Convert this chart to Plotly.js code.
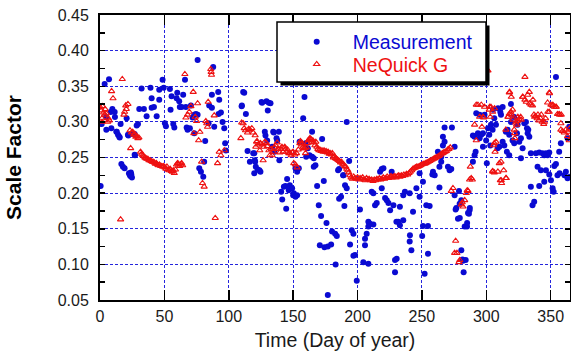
<!DOCTYPE html>
<html>
<head>
<meta charset="utf-8">
<script src="https://cdn.plot.ly/plotly-3.0.1.min.js"></script>
<style>html,body{margin:0;padding:0;background:#fff;}#chart{width:571px;height:356px;}</style>
</head>
<body>
<div id="chart"></div>
<script>
// ---- Data ----
const xTickVals = [0, 50, 100, 150, 200, 250, 300, 350];
const yTickVals = [0.05, 0.10, 0.15, 0.20, 0.25, 0.30, 0.35, 0.40, 0.45];

const measName = "Measurement";
const measDay = [0.5,1.3,3.6,4.7,4.9,7.0,8.3,8.8,9.6,11.4,11.6,12.7,13,14,15,15.3,16,16.6,17.8,19.1,20.7,21.7,22,22.5,23,23.5,24,24.3,24.3,24.8,26.9,26.9,27.2,28.5,29.5,30.5,32.3,34.1,36.2,39.2,40.1,40.1,41.9,44,46,46,48.6,49.5,50.4,51.2,54.3,54.8,55.6,56.9,57.7,59.5,60,61.5,62,63.4,64.6,66,66.7,67.3,68,69.8,70.6,71.9,73.2,73.2,74.5,75.8,75.8,77.1,78.4,80.2,80.9,81.7,84.3,84.8,86.9,86.9,87.9,88.7,91.8,92.1,92.6,93.9,95.2,96.5,97.2,97.8,
110,110.2,111.2,112,113.3,114.6,116.4,119,119.8,119.8,120.2,120.5,121,122.5,123.8,124.6,125.4,125.9,128,128.5,129.3,129.8,130.3,131.1,132.4,133.7,134.5,135,135.5,137.1,137.6,138.9,139.3,140.7,141.5,142.8,144,144.6,145.3,146.6,147.4,149.2,150,150.5,151.8,151.8,153.1,153.1,154.4,155,157.8,158.8,159.6,160.1,161.4,162.7,164.7,164.7,166,166,167.3,168.6,169.9,170.7,171.7,172.5,173.8,174.3,175.9,176.9,176.9,179.5,180.2,
182.6,183,183.9,184.9,185.7,185.7,187.2,188.8,189.1,189.8,190.3,191.6,191.6,193.5,194.2,195.5,196.8,196.8,198.1,199.4,201.9,204.5,205.8,205.8,207.1,208.4,208.4,208.4,209.7,211,212.3,212.3,213.6,214.9,217.5,218.8,218.8,220.1,221.4,222.7,224,225.3,226.5,227.9,229.1,229.1,230.2,230.4,231.6,232.9,232.9,235.5,235.5,236.8,240.5,240.5,240.7,241.8,243.1,245.7,248.2,248.2,250.2,250.8,250.8,252.1,253.4,254.7,254.7,256,258.1,258.6,259.9,262.4,263.6,263.6,265,265,266.3,266.3,267.6,267.6,270.2,271.5,272.8,273.3,275.4,275.4,276.2,276.7,278,278.8,279.3,279.4,280.6,280.6,281.5,281.9,282.4,283.2,284,285,285.1,285.8,286.5,287,287.2,289.6,289.6,290.9,290.9,291.7,292.2,293.5,294.8,294.8,296.1,297.4,297.4,298.6,299.9,300.4,301.3,
302.3,303.1,303.6,304.9,305.2,306.2,307.5,308.8,309.1,310.1,310.9,311.4,312.7,312.7,314,315.2,316,316.5,317.8,317.8,319.1,319.1,320.4,321.7,321.7,323.8,324.3,325.6,326.9,326.9,328.2,329.5,330.8,331.6,332.1,332.6,333.4,334.6,334.6,335.9,337.2,338.5,339.8,341.1,341.1,342.4,343.7,345,345,346.3,346.3,347.6,348.9,348.9,350.2,351.5,352.3,352.8,354.1,354.1,355.3,356.6,356.9,357.9,360.7,361.8,363.1,363.1,364.4,365];
const measVal = [0.210,0.297,0.353,0.307,0.289,0.360,0.314,0.291,0.318,0.314,0.307,0.286,0.286,0.282,0.279,0.278,0.297,0.241,0.237,0.235,0.305,0.282,0.281,0.228,0.226,0.224,0.229,0.226,0.283,0.222,0.283,0.254,0.253,0.295,0.297,0.318,0.347,0.318,0.308,0.348,0.320,0.333,0.321,0.308,0.345,0.331,0.359,0.348,0.298,0.294,0.346,0.317,0.336,0.297,0.292,0.333,0.341,0.329,0.321,0.321,0.338,0.359,0.321,0.292,0.289,0.291,0.323,0.306,0.310,0.284,0.311,0.387,0.310,0.235,0.230,0.223,0.244,0.273,0.298,0.323,0.338,0.320,0.377,0.293,0.342,0.311,0.331,0.313,0.300,0.291,0.270,0.260,
0.322,0.323,0.342,0.341,0.311,0.259,0.244,0.256,0.256,0.228,0.246,0.244,0.237,0.233,0.232,0.230,0.328,0.327,0.286,0.281,0.329,0.274,0.316,0.327,0.326,0.265,0.286,0.285,0.258,0.277,0.274,0.286,0.246,0.202,0.191,0.209,0.210,0.178,0.220,0.204,0.211,0.207,0.197,0.200,0.195,0.235,0.197,0.230,0.235,0.272,0.305,0.335,0.270,0.251,0.263,0.253,0.286,0.251,0.249,0.237,0.239,0.210,0.183,0.127,0.168,0.276,0.217,0.124,0.158,0.125,0.057,0.128,0.146,
0.143,0.100,0.140,0.232,0.234,0.192,0.195,0.225,0.225,0.182,0.211,0.300,0.207,0.245,0.128,0.148,0.143,0.112,0.113,0.077,0.177,0.103,0.127,0.136,0.143,0.160,0.153,0.101,0.157,0.202,0.200,0.156,0.183,0.186,0.230,0.234,0.207,0.235,0.193,0.190,0.186,0.176,0.230,0.183,0.106,0.089,0.160,0.108,0.160,0.155,0.181,0.162,0.197,0.202,0.200,0.132,0.141,0.120,0.174,0.207,0.228,0.195,0.140,0.216,0.154,0.087,0.183,0.154,0.115,0.182,0.226,0.230,0.225,0.258,0.208,0.237,0.244,0.251,0.279,0.267,0.272,0.292,0.237,0.232,0.234,0.292,0.197,0.265,0.177,0.179,0.164,0.203,0.185,0.165,0.190,0.120,0.107,0.105,0.089,0.153,0.106,0.153,0.158,0.172,0.171,0.176,0.179,0.244,0.281,0.253,0.279,0.258,0.312,0.284,0.310,0.277,0.282,0.284,0.265,0.310,0.274,0.242,0.291,
0.282,0.267,0.296,0.289,0.317,0.305,0.296,0.263,0.319,0.265,0.314,0.310,0.321,0.272,0.267,0.286,0.258,0.289,0.282,0.253,0.300,0.325,0.274,0.307,0.270,0.284,0.296,0.272,0.277,0.249,0.263,0.298,0.300,0.291,0.284,0.289,0.279,0.256,0.209,0.183,0.188,0.256,0.237,0.257,0.210,0.232,0.256,0.253,0.216,0.256,0.232,0.253,0.257,0.226,0.218,0.207,0.202,0.238,0.241,0.363,0.225,0.258,0.228,0.270,0.225,0.230,0.277,0.221,0.293,0.223];

const nqName = "NeQuick G";
const nqDay = [0.5,1.0,1.5,1.6,2.0,2.8,3.5,4.0,5.0,6.0,6.5,7.2,9.0,10.1,16.0,17.3,18.6,19.1,20.0,20.4,21.7,23.3,23.8,24.5,25.4,26.2,27.0,27.8,28.6,29.4,30.2,
31.5,32.3,33.1,34.0,34.8,35.6,36.4,37.2,38.0,38.9,39.7,40.5,41.3,42.1,43.0,43.8,44.6,45.4,46.2,47.1,47.9,48.7,49.5,50.4,51.2,52.0,52.8,53.6,54.5,55.3,56.1,56.9,57.7,58.6,59.4,60.2,61.0,61.8,62.6,63.4,64.2,
65.9,66.7,68.0,69.3,70.6,72.4,72.9,74.0,75.0,75.8,76.6,77.6,78.9,79.6,80.9,82.2,82.9,83.5,84.0,86.0,86.3,86.6,88.7,89.5,91.3,92.6,93.9,96.5,
109.4,110.0,111.2,112.0,113.0,114.6,115.5,116.4,117.9,118.9,120.5,121.0,121.6,122.0,123.0,124.1,124.6,126.0,126.7,127.2,128.0,129.3,130.0,131.1,131.9,133.0,133.7,134.5,135.5,136.3,137.6,138.5,139.6,140.5,141.3,142.2,143.5,144.0,144.8,145.7,146.6,147.4,148.5,149.3,150.0,150.5,151.3,151.8,152.6,153.1,154.0,155.2,155.7,156.5,157.0,157.8,158.3,159.1,159.6,160.3,161.0,161.7,162.4,163.0,163.7,164.4,165.3,166.0,166.9,167.6,168.4,169.2,170.0,170.8,171.6,172.4,173.2,174.0,174.8,175.6,176.4,177.2,178.0,178.8,179.6,180.4,181.2,182.0,182.8,183.6,184.4,185.2,186.0,186.8,187.6,188.4,189.2,190.0,190.8,191.6,192.4,193.2,194.0,
195,196,197,198,199,200,201,202,203,204,205,206,207,208,209,210,211,212,213,214,215,216,217,218,219,220,221,222,223,224,225,226,227,228,229,230,231,232,233,234,235,236,237,238,239,240,241,242,
243,244,245,246,247,248,249,250,251,252,253,254,255,256,257,258,259,260,261,262,263,264,265,266,267,268,269,270,271,272,
272.8,274.1,275.4,276.2,277.2,278.8,279.4,280.6,281.3,281.9,283.2,284.5,285.2,285.8,287.0,287.6,288.3,289.2,290.9,292.2,292.2,293.5,294.8,296.1,296.6,297.4,297.9,298.6,299.9,301.3,302.3,302.6,303.1,303.6,304.9,304.9,305.1,305.6,306.2,306.2,306.4,306.8,307.5,309.0,310.1,310.9,311.4,311.6,311.9,313.5,315.2,315.2,315.5,316.8,317.0,317.8,317.8,318.1,319.1,319.4,319.6,320.4,320.7,321.7,322.0,322.2,322.8,323.5,324.1,324.5,325.4,326.7,327.1,328.2,328.4,330.0,330.0,331.0,332.1,333.4,333.6,334.6,335.9,336.2,337.0,337.5,338.3,339.5,340.1,340.8,342.0,342.7,343.4,344.6,345.2,346.0,347.6,347.8,348.9,349.1,348.9,350.2,351.5,351.7,352.8,354.1,354.3,355.3,356.6,356.9,357.9,357.9,358.2,359.2,360.5,361.8,363.1,363.4,364.4,364.7];
const nqVal = [0.320,0.316,0.305,0.300,0.322,0.313,0.310,0.318,0.312,0.300,0.305,0.302,0.343,0.333,0.163,0.360,0.310,0.314,0.323,0.318,0.325,0.288,0.263,0.285,0.286,0.282,0.283,0.279,0.280,0.277,0.278,
0.258,0.255,0.253,0.252,0.250,0.249,0.248,0.248,0.246,0.246,0.245,0.244,0.244,0.243,0.241,0.242,0.240,0.239,0.240,0.238,0.238,0.237,0.238,0.236,0.234,0.237,0.233,0.232,0.234,0.231,0.230,0.232,0.228,0.233,0.240,0.242,0.241,0.238,0.240,0.242,0.239,
0.367,0.306,0.310,0.314,0.322,0.342,0.284,0.307,0.301,0.326,0.274,0.286,0.244,0.214,0.209,0.301,0.298,0.293,0.328,0.374,0.370,0.366,0.309,0.165,0.242,0.258,0.253,0.260,
0.277,0.299,0.298,0.291,0.288,0.285,0.290,0.289,0.291,0.285,0.281,0.265,0.272,0.273,0.268,0.260,0.270,0.268,0.246,0.265,0.272,0.270,0.266,0.260,0.253,0.262,0.253,0.258,0.264,0.267,0.271,0.262,0.257,0.262,0.265,0.258,0.265,0.262,0.258,0.261,0.256,0.256,0.253,0.257,0.258,0.242,0.254,0.240,0.256,0.236,0.261,0.270,0.273,0.268,0.270,0.265,0.263,0.263,0.256,0.264,0.270,0.274,0.275,0.277,0.276,0.272,0.274,0.271,0.267,0.272,0.265,0.262,0.260,0.261,0.259,0.260,0.258,0.260,0.258,0.259,0.257,0.258,0.255,0.256,0.254,0.256,0.250,0.252,0.249,0.248,0.247,0.246,0.245,0.243,0.244,0.241,0.240,0.238,0.237,0.234,0.232,0.229,0.225,
0.222,0.220,0.223,0.221,0.220,0.222,0.219,0.221,0.220,0.222,0.219,0.218,0.221,0.219,0.220,0.218,0.219,0.217,0.219,0.218,0.220,0.219,0.221,0.219,0.220,0.222,0.220,0.221,0.223,0.221,0.222,0.224,0.222,0.223,0.224,0.222,0.224,0.225,0.223,0.225,0.224,0.226,0.225,0.227,0.226,0.228,0.230,0.232,
0.234,0.235,0.236,0.237,0.237,0.238,0.239,0.240,0.241,0.241,0.242,0.243,0.244,0.245,0.246,0.247,0.248,0.249,0.250,0.251,0.252,0.253,0.255,0.256,0.257,0.258,0.259,0.261,0.262,0.264,
0.203,0.207,0.116,0.133,0.116,0.103,0.106,0.184,0.187,0.181,0.190,0.200,0.204,0.203,0.219,0.237,0.221,0.219,0.296,0.274,0.324,0.324,0.307,0.324,0.293,0.307,0.306,0.321,0.373,0.372,0.317,0.321,0.307,0.321,0.314,0.231,0.230,0.267,0.270,0.229,0.319,0.258,0.272,0.230,0.242,0.218,0.244,0.218,0.214,0.232,0.221,0.289,0.221,0.307,0.307,0.341,0.311,0.342,0.314,0.335,0.310,0.317,0.303,0.289,0.284,0.277,0.299,0.296,0.301,0.307,0.304,0.307,0.303,0.335,0.335,0.331,0.363,0.328,0.338,0.342,0.326,0.324,0.323,0.331,0.310,0.307,0.308,0.305,0.310,0.302,0.305,0.310,0.300,0.297,0.300,0.305,0.327,0.314,0.341,0.340,0.314,0.324,0.323,0.324,0.321,0.321,0.321,0.311,0.311,0.310,0.298,0.289,0.310,0.287,0.285,0.289,0.280,0.286,0.274,0.291];

// ---- Styling ----
const FONT = "Liberation Sans, Arial, Helvetica, sans-serif";
const BLUE = "#0a0ad2";
const RED = "#ee1111";
const GRID = "#2424dc";

// plot box in pixels (for paper-coordinate conversion of the legend frame)
const L = 100, T = 15, W = 470, H = 285;
const px = x => (x - L) / W;
const py = y => (T + H - y) / H;

const traces = [
  {
    x: measDay, y: measVal, type: "scatter", mode: "markers", name: '<span style="color:' + BLUE + '">' + measName + '</span>',
    marker: {symbol: "circle", size: 6, color: BLUE, line: {width: 0}},
    legend: "legend"
  },
  {
    x: nqDay, y: nqVal, type: "scatter", mode: "markers", name: '<span style="color:' + RED + '">' + nqName + '</span>',
    marker: {symbol: "triangle-up-open", size: 5.5, color: RED, line: {width: 1.1, color: RED}},
    legend: "legend2"
  }
];

const axisCommon = {
  showline: true, linecolor: "#000", linewidth: 2, mirror: "ticks",
  ticks: "inside", tickcolor: "#000", tickwidth: 1.5,
  showgrid: true, gridcolor: GRID, griddash: "3px,2px", gridwidth: 1.1,
  zeroline: false,
  tickfont: {family: FONT, size: 16, color: "#1a1a1a"}
};

const layout = {
  width: 571, height: 356,
  margin: {l: L, r: 1, t: T, b: 56, pad: 0},
  paper_bgcolor: "#fff", plot_bgcolor: "#fff",
  showlegend: true,
  xaxis: Object.assign({}, axisCommon, {
    range: [0, 365], tickmode: "array", tickvals: xTickVals, ticktext: xTickVals.map(String),
    ticklen: 10, ticklabelstandoff: 1,
    title: {text: "Time (Day of year)", font: {family: FONT, size: 19.5, color: "#1a1a1a"}, standoff: 9}
  }),
  yaxis: Object.assign({}, axisCommon, {
    range: [0.05, 0.45], tickmode: "array", tickvals: yTickVals, ticktext: yTickVals.map(v => v.toFixed(2)),
    ticklen: 5, ticklabelstandoff: 6,
    minor: {tickmode: "linear", tick0: 0.025, dtick: 0.05, ticks: "inside", ticklen: 5, tickcolor: "#000", tickwidth: 1.5, showgrid: false},
    title: {text: "Scale Factor", font: {family: FONT, size: 21, color: "#000", weight: "bold"}, standoff: 30}
  }),
  legend: {
    x: px(280.7), y: py(42), xanchor: "left", yanchor: "middle",
    bgcolor: "rgba(0,0,0,0)", borderwidth: 0, itemwidth: 62,
    font: {family: FONT, size: 19.5}
  },
  legend2: {
    x: px(280.7), y: py(64.5), xanchor: "left", yanchor: "middle",
    bgcolor: "rgba(0,0,0,0)", borderwidth: 0, itemwidth: 62,
    font: {family: FONT, size: 19.5}
  },
  shapes: [
    {type: "rect", xref: "paper", yref: "paper", layer: "above",
     x0: px(280.5), x1: px(489.5), y0: py(85.5), y1: py(25.5),
     fillcolor: "#000", line: {width: 0}},
    {type: "rect", xref: "paper", yref: "paper", layer: "above",
     x0: px(277), x1: px(486), y0: py(82), y1: py(22),
     fillcolor: "#fff", line: {color: "#000", width: 1.5}}
  ]
};

Plotly.newPlot("chart", traces, layout, {displayModeBar: false, staticPlot: true});
</script>
</body>
</html>
